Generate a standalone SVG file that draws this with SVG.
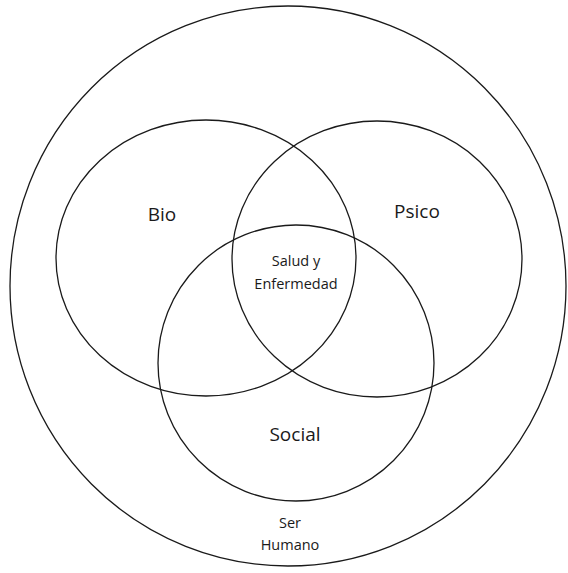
<svg xmlns="http://www.w3.org/2000/svg" width="568" height="573" viewBox="0 0 568 573">
  <style>
    .ring { fill: none; stroke: #1a1a1a; stroke-width: 1.3; }
    .lbl { font-family: "Open Sans", "Liberation Sans", sans-serif; fill: #1a1a1a; text-anchor: middle; }
    .big { font-size: 19px; }
    .small { font-size: 14.5px; }
  </style>
  <rect width="568" height="573" fill="#ffffff"/>

  <g id="ser-humano">
    <ellipse class="ring" cx="288" cy="286" rx="278" ry="280"/>
    <text class="lbl small" x="290" y="528">Ser</text>
    <text class="lbl small" x="290" y="550">Humano</text>
  </g>

  <g id="bio">
    <ellipse class="ring" cx="206" cy="258" rx="150" ry="138"/>
    <text class="lbl big" x="162" y="221">Bio</text>
  </g>

  <g id="psico">
    <ellipse class="ring" cx="377" cy="259" rx="145" ry="138"/>
    <text class="lbl big" x="417" y="218">Psico</text>
  </g>

  <g id="social">
    <ellipse class="ring" cx="296" cy="363" rx="138" ry="138"/>
    <text class="lbl big" x="295" y="441">Social</text>
  </g>

  <g id="salud-enfermedad">
    <text class="lbl small" x="296" y="266">Salud y</text>
    <text class="lbl small" x="296" y="289">Enfermedad</text>
  </g>
</svg>
